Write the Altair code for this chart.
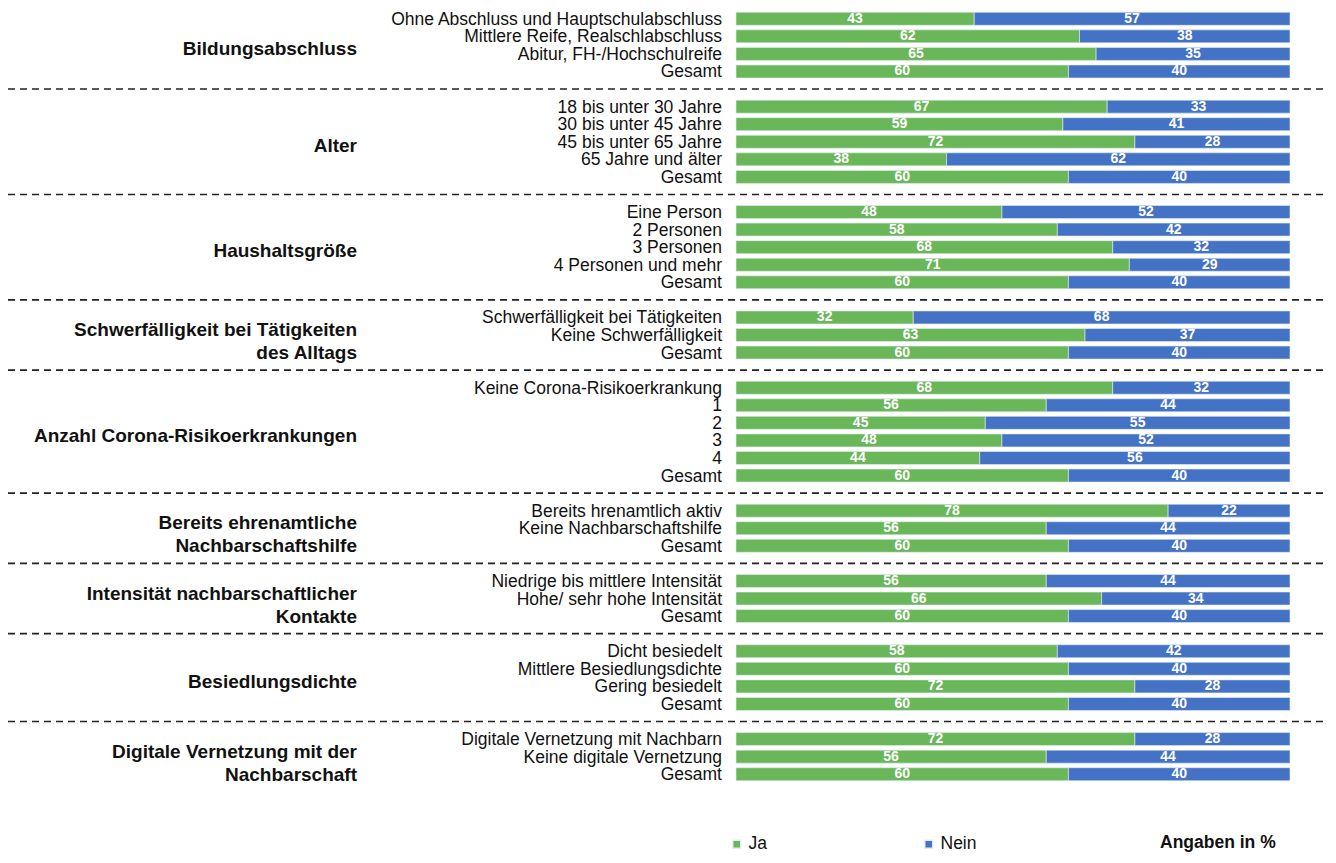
import altair as alt
import pandas as pd

GREEN = "#6ab75a"
BLUE = "#4472c4"
FONT = "Liberation Sans"

groups = [
    "Bildungsabschluss",
    "Alter",
    "Haushaltsgröße",
    "Schwerfälligkeit bei Tätigkeiten\ndes Alltags",
    "Anzahl Corona-Risikoerkrankungen",
    "Bereits ehrenamtliche\nNachbarschaftshilfe",
    "Intensität nachbarschaftlicher\nKontakte",
    "Besiedlungsdichte",
    "Digitale Vernetzung mit der\nNachbarschaft",
]
labels = [
    ["Ohne Abschluss und Hauptschulabschluss", "Mittlere Reife, Realschlabschluss", "Abitur, FH-/Hochschulreife", "Gesamt"],
    ["18 bis unter 30 Jahre", "30 bis unter 45 Jahre", "45 bis unter 65 Jahre", "65 Jahre und älter", "Gesamt"],
    ["Eine Person", "2 Personen", "3 Personen", "4 Personen und mehr", "Gesamt"],
    ["Schwerfälligkeit bei Tätigkeiten", "Keine Schwerfälligkeit", "Gesamt"],
    ["Keine Corona-Risikoerkrankung", "1", "2", "3", "4", "Gesamt"],
    ["Bereits hrenamtlich aktiv", "Keine Nachbarschaftshilfe", "Gesamt"],
    ["Niedrige bis mittlere Intensität", "Hohe/ sehr hohe Intensität", "Gesamt"],
    ["Dicht besiedelt", "Mittlere Besiedlungsdichte", "Gering besiedelt", "Gesamt"],
    ["Digitale Vernetzung mit Nachbarn", "Keine digitale Vernetzung", "Gesamt"],
]
ja = [
    [43, 62, 65, 60],
    [67, 59, 72, 38, 60],
    [48, 58, 68, 71, 60],
    [32, 63, 60],
    [68, 56, 45, 48, 44, 60],
    [78, 56, 60],
    [56, 66, 60],
    [58, 60, 72, 60],
    [72, 56, 60],
]
nein = [
    [57, 38, 35, 40],
    [33, 41, 28, 62, 40],
    [52, 42, 32, 29, 40],
    [68, 37, 40],
    [32, 44, 55, 52, 56, 40],
    [22, 44, 40],
    [44, 34, 40],
    [42, 40, 28, 40],
    [28, 44, 40],
]
note_text = "Angaben in %"

rows, grp_rows, seps = [], [], []
r = 0
for gi, g in enumerate(groups):
    start_r = r
    for lab, j, n in zip(labels[gi], ja[gi], nein[gi]):
        rows.append({"row": r, "label": lab, "answer": "Ja", "start": 0, "end": j, "mid": j / 2, "value": j})
        rows.append({"row": r, "label": lab, "answer": "Nein", "start": j, "end": j + n, "mid": j + n / 2, "value": n})
        r += 1
    grp_rows.append({"row": (start_r + r - 1) / 2, "text": g, "multi": "\n" in g})
    if gi < len(groups) - 1:
        seps.append({"row": r})
        r += 1
nrows = r

bars_df = pd.DataFrame(rows)
lab_df = bars_df[bars_df.answer == "Ja"][["row", "label"]].reset_index(drop=True)
grp_df = pd.DataFrame(grp_rows)
grp_single = grp_df[~grp_df.multi][["row", "text"]].reset_index(drop=True)
grp_multi = grp_df[grp_df.multi][["row", "text"]].reset_index(drop=True)
sep_df = pd.DataFrame(seps)
note_df = pd.DataFrame([{"t": note_text}])

W = 554
H = 773

yscale = alt.Scale(domain=[-0.5, nrows - 0.5], reverse=True, nice=False, zero=False, padding=0)
xscale = alt.Scale(domain=[0, 100], nice=False)

base = alt.Chart(bars_df)

bars = base.mark_bar(size=13, stroke="#e6ecf5", strokeWidth=0.6).encode(
    x=alt.X("start:Q", scale=xscale, axis=None),
    x2="end:Q",
    y=alt.Y("row:Q", scale=yscale, axis=None),
    color=alt.Color(
        "answer:N",
        scale=alt.Scale(domain=["Ja", "Nein"], range=[GREEN, BLUE]),
        legend=alt.Legend(
            orient="none", legendX=-8, legendY=825, direction="horizontal",
            title=None, symbolType="square", symbolSize=64, padding=0,
            labelFontSize=17.5, labelFont=FONT, labelColor="#111", columnPadding=153,
            labelOffset=3,
        ),
    ),
)

vals = base.mark_text(color="white", fontSize=14, font=FONT, fontWeight="bold", baseline="middle").encode(
    x=alt.X("mid:Q", scale=xscale),
    y=alt.Y("row:Q", scale=yscale),
    text=alt.Text("value:Q"),
)

row_labels = alt.Chart(lab_df).mark_text(
    align="right", baseline="middle", fontSize=17.5, font=FONT, color="#111", dy=1
).encode(
    x=alt.value(-14),
    y=alt.Y("row:Q", scale=yscale),
    text=alt.Text("label:N"),
)

grp_single_lbl = alt.Chart(grp_single).mark_text(
    align="right", baseline="middle", fontSize=19, font=FONT, fontWeight="bold",
    color="#111", dy=4
).encode(
    x=alt.value(-379),
    y=alt.Y("row:Q", scale=yscale),
    text=alt.Text("text:N"),
)

grp_multi_lbl = alt.Chart(grp_multi).mark_text(
    align="right", baseline="middle", fontSize=19, font=FONT, fontWeight="bold",
    color="#111", lineHeight=23, dy=-5, lineBreak="\n"
).encode(
    x=alt.value(-379),
    y=alt.Y("row:Q", scale=yscale),
    text=alt.Text("text:N"),
)

sep_rules = alt.Chart(sep_df).mark_rule(
    strokeDash=[7, 5], strokeWidth=1.6, color="#222", x=-728, x2=594
).encode(
    y=alt.Y("row:Q", scale=yscale),
)

note = alt.Chart(note_df).mark_text(
    align="left", baseline="middle", fontSize=17.5, font=FONT, fontWeight="bold", color="#111"
).encode(
    x=alt.value(424),
    y=alt.value(833),
    text=alt.Text("t:N"),
)

chart = alt.layer(bars, vals, row_labels, grp_single_lbl, grp_multi_lbl, sep_rules, note).properties(
    width=W,
    height=H,
    autosize=alt.AutoSizeParams(type="none"),
    padding={"left": 728, "top": 2, "right": 38, "bottom": 72},
).configure_view(strokeWidth=0)

chart.save("out.html", embed_options={"renderer": "svg", "actions": False})
